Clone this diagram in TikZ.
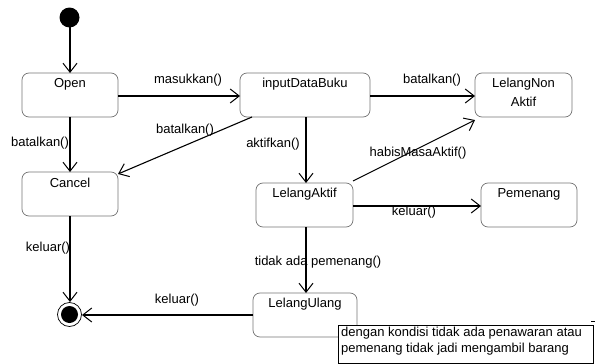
\documentclass[tikz,border=0pt]{standalone}
\usepackage{fontspec}
\setmainfont{Liberation Sans}
\usetikzlibrary{arrows.meta}
\begin{document}
\begin{tikzpicture}[x=1pt,y=-1pt,
  font=\fontsize{13}{15}\selectfont,
  state/.style={draw=black!55, line width=0.7pt, rounded corners=7pt},
  stext/.style={inner sep=0pt, anchor=center},
  tr/.style={draw=black, line width=1.1pt, -{Straight Barb[length=9pt,width=14pt,line width=1pt]}},
  lbl/.style={inner sep=0pt, anchor=center}]
\useasboundingbox (0,0) rectangle (595,364);
% states
\draw[state] (22,73) rectangle (118,117);
\node[stext] (openT) at (70,84) {Open};
\draw[state] (240,73) rectangle (370,117);
\node[stext] (idbT) at (305,84) {inputDataBuku};
\draw[state] (475,73) rectangle (572,117);
\node[stext, align=center, font=\fontsize{13}{18.5}\selectfont] (lnaT) at (523.5,92.5) {LelangNon\\Aktif};
\draw[state] (22,172) rectangle (118,216);
\node[stext] (cancelT) at (70,183) {Cancel};
\draw[state] (256,183) rectangle (353,227);
\node[stext] (laT) at (304.5,194) {LelangAktif};
\draw[state] (481,183) rectangle (577,227);
\node[stext] (pemT) at (529,194) {Pemenang};
\draw[state] (253,293) rectangle (357,337);
\node[stext] (luT) at (305,304) {LelangUlang};
% initial and final
\node[circle, fill=black, minimum size=20pt, inner sep=0pt] (init) at (69.5,17.5) {};
\node[circle, draw=black, line width=0.7pt, minimum size=24pt, inner sep=0pt] (final) at (69.5,314.5) {};
\node[circle, fill=black, minimum size=17pt, inner sep=0pt] (finalin) at (69.5,314.5) {};
% anchors for connectors
\coordinate (a1) at (70,27);  \coordinate (a2) at (70,73);
\coordinate (b1) at (118,96); \coordinate (b2) at (240,96);
\coordinate (c1) at (70,117); \coordinate (c2) at (70,172);
\coordinate (d1) at (252,117); \coordinate (d2) at (118,174);
\coordinate (e1) at (370,96); \coordinate (e2) at (475,96);
\coordinate (f1) at (306,117); \coordinate (f2) at (306,183);
\coordinate (g1) at (353,181); \coordinate (g2) at (475,120);
\coordinate (h1) at (353,206); \coordinate (h2) at (481,206);
\coordinate (i1) at (306,227); \coordinate (i2) at (306,293);
\coordinate (j1) at (253,315); \coordinate (j2) at (82,315);
\coordinate (k1) at (70,216); \coordinate (k2) at (70,302);
\draw[tr] (a1) -- (a2);
\draw[tr] (b1) -- (b2);
\draw[tr] (c1) -- (c2);
\draw[tr] (d1) -- (d2);
\draw[tr] (e1) -- (e2);
\draw[tr] (f1) -- (f2);
\draw[tr] (g1) -- (g2);
\draw[tr] (h1) -- (h2);
\draw[tr] (i1) -- (i2);
\draw[tr] (j1) -- (j2);
\draw[tr] (k1) -- (k2);
% labels
\node[lbl] at (188,80) {masukkan()};
\node[lbl] at (40,143) {batalkan()};
\node[lbl] at (185,130) {batalkan()};
\node[lbl] at (432,80) {batalkan()};
\node[lbl] at (273,144) {aktifkan()};
\node[lbl] at (418,153) {habisMasaAktif()};
\node[lbl] at (414,212) {keluar()};
\node[lbl] at (318,262) {tidak ada pemenang()};
\node[lbl] at (177,300) {keluar()};
\node[lbl] at (48,248) {keluar()};
% note
\draw[black, line width=0.8pt, fill=white] (338,325) rectangle (593,363);
\draw[black, line width=0.7pt] (591,321) -- (595,321) -- (595,326);
\node[anchor=north west, inner sep=0pt, align=left, font=\fontsize{13}{16}\selectfont] (note) at (341,327) {dengan kondisi tidak ada penawaran atau\\pemenang tidak jadi mengambil barang};
\end{tikzpicture}
\end{document}
